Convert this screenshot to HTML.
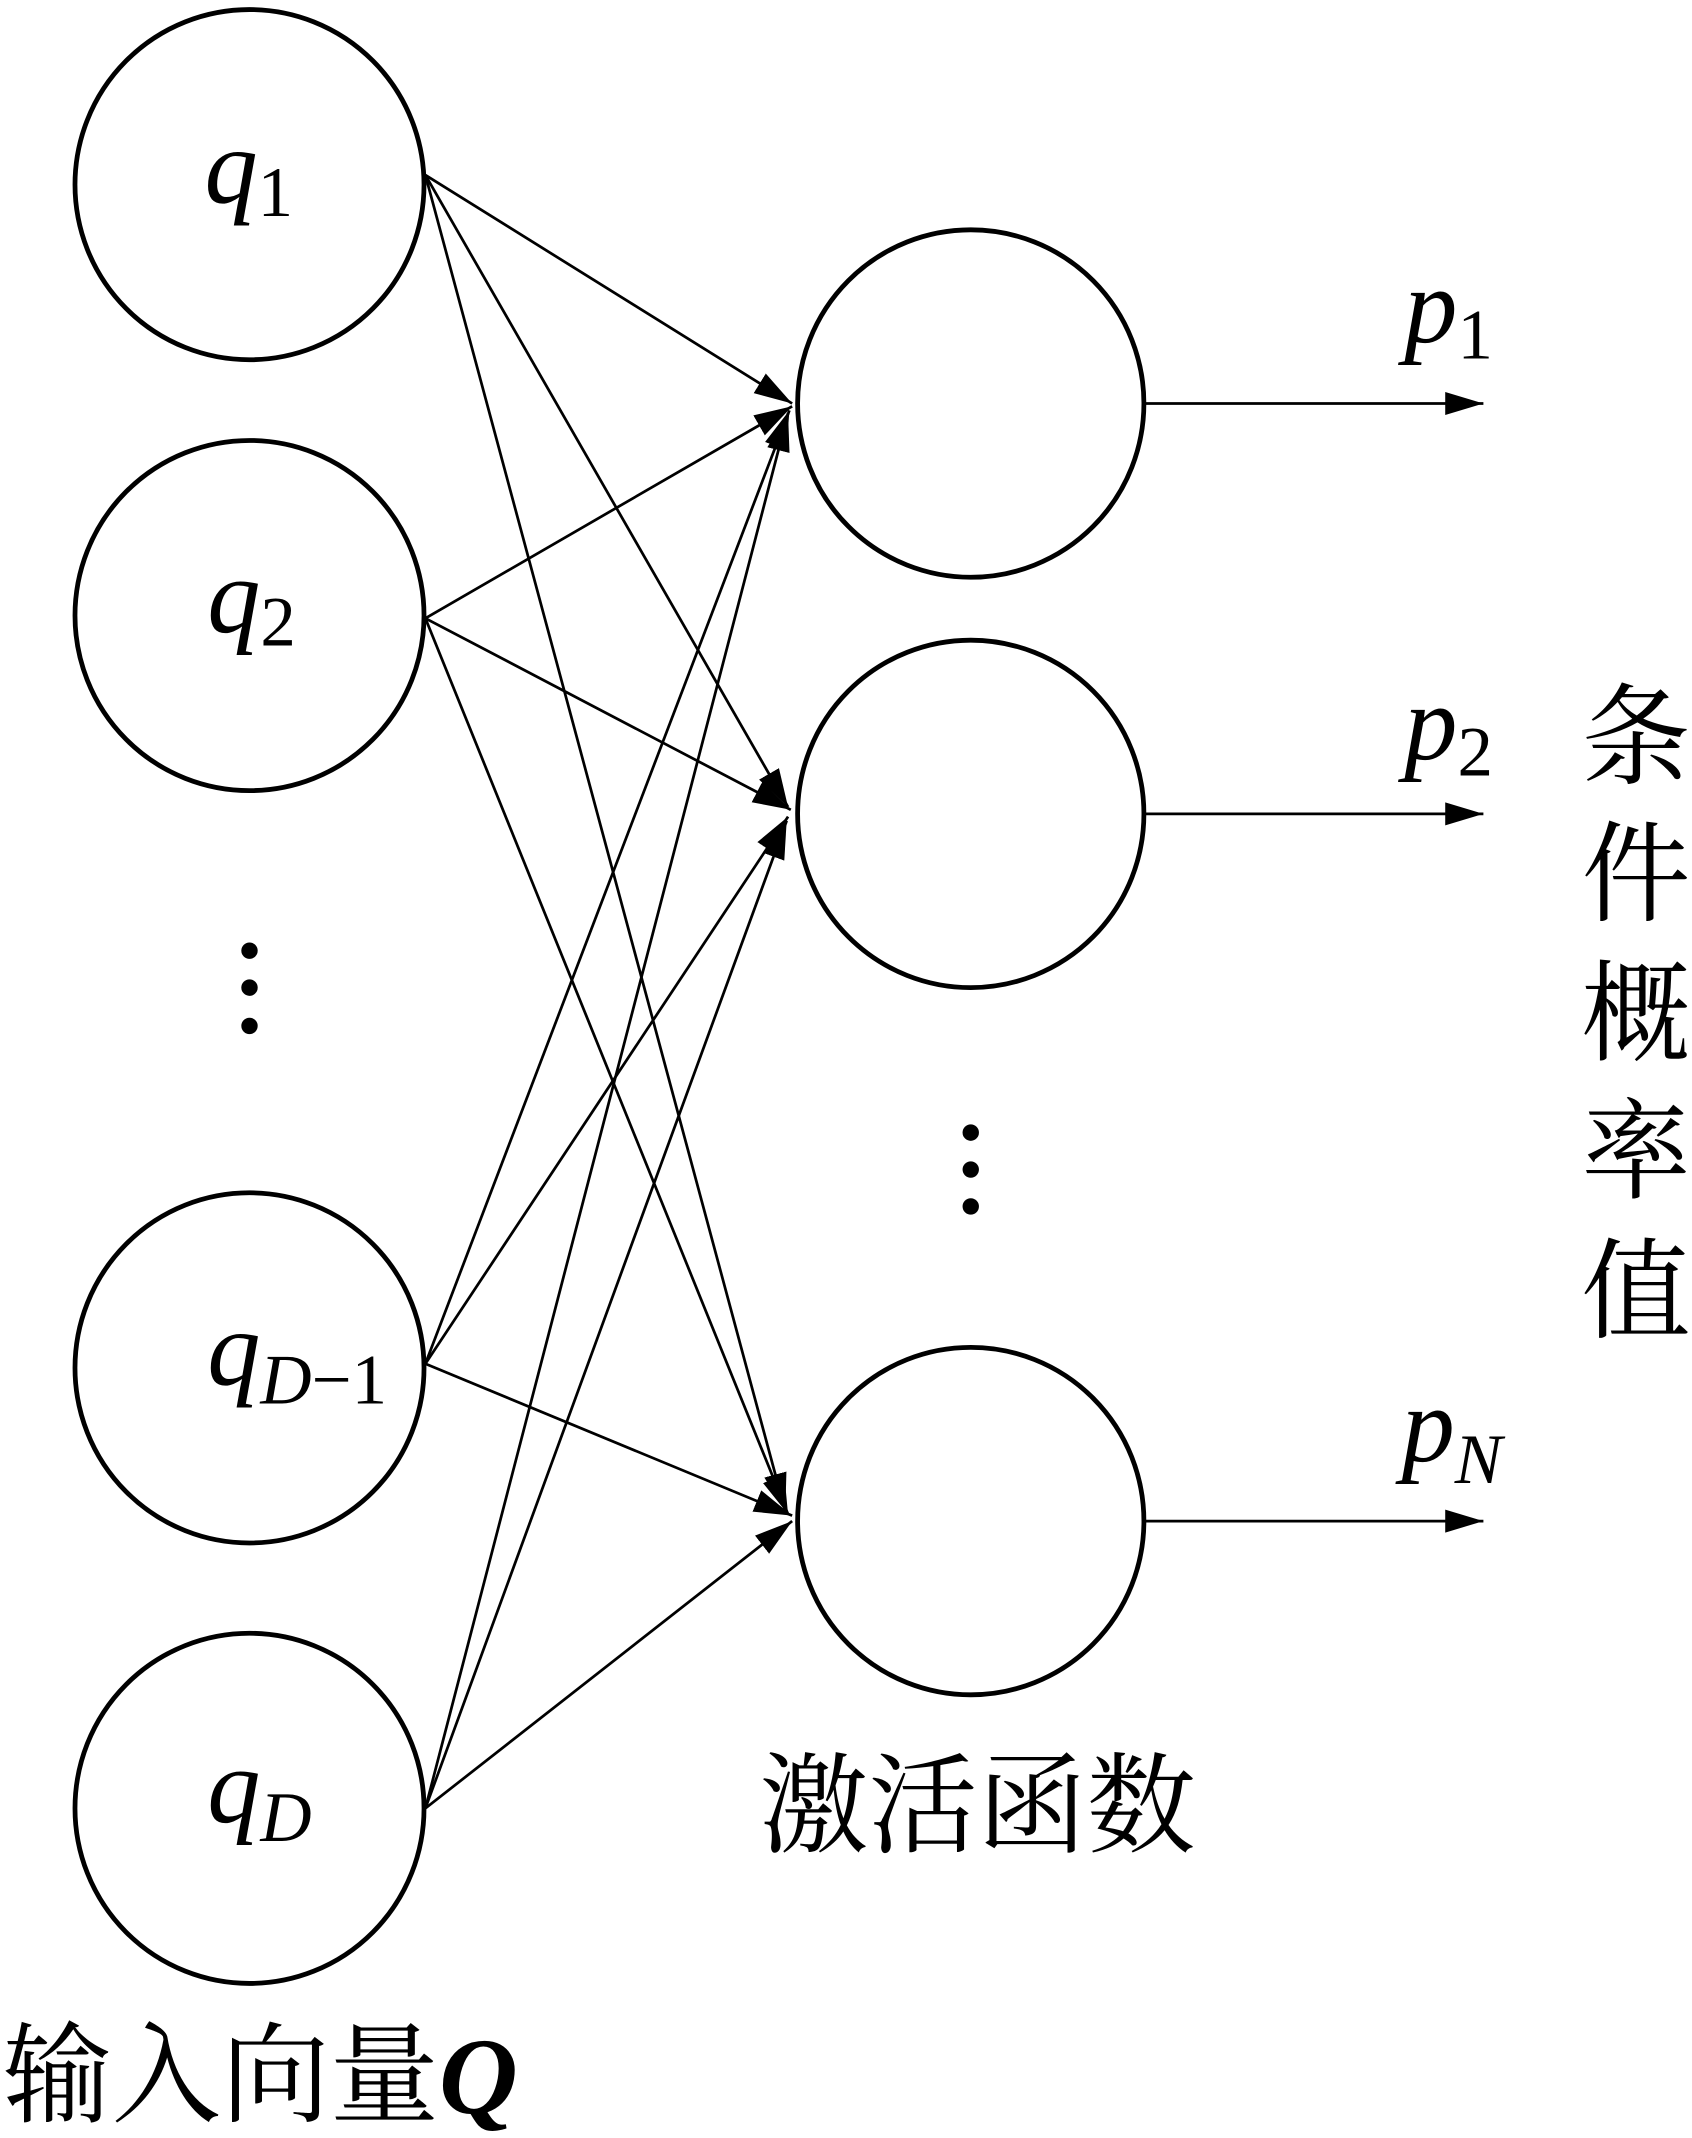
<!DOCTYPE html>
<html><head><meta charset="utf-8"><style>
html,body{margin:0;padding:0;background:#fff;}
svg{display:block;}
.it{font-family:"Liberation Serif",serif;font-style:italic;}
.rm{font-family:"Liberation Serif",serif;font-style:normal;}
.cj{font-family:"Liberation Serif","Noto Serif CJK SC",serif;}
</style></head><body>
<svg width="1692" height="2138" viewBox="0 0 1241 1563" preserveAspectRatio="none" xmlns="http://www.w3.org/2000/svg">
<defs>
<marker id="b" viewBox="0 0 10 10" refX="10" refY="5" markerWidth="28" markerHeight="28" markerUnits="userSpaceOnUse" orient="auto">
<path d="M0,2 L10,5 L0,8 Z" fill="#000"/>
</marker>
</defs>
<g fill="none" stroke="#000" stroke-width="3.5">
<circle cx="183" cy="135" r="128"/>
<circle cx="183" cy="450" r="128"/>
<circle cx="183" cy="1000" r="128"/>
<circle cx="183" cy="1322" r="128"/>
<circle cx="712" cy="295" r="127"/>
<circle cx="712" cy="595" r="127"/>
<circle cx="712" cy="1112" r="127"/>
</g>
<g fill="#000">
<circle cx="183" cy="695" r="6"/><circle cx="183" cy="722" r="6"/><circle cx="183" cy="750" r="6"/>
<circle cx="712" cy="828" r="6"/><circle cx="712" cy="855" r="6"/><circle cx="712" cy="882" r="6"/>
</g>
<g stroke="#000" stroke-width="2" marker-end="url(#b)">
<line x1="312" y1="128" x2="581" y2="295"/>
<line x1="312" y1="128" x2="578" y2="590"/>
<line x1="312" y1="128" x2="576" y2="1105"/>
<line x1="312" y1="452" x2="581" y2="297"/>
<line x1="312" y1="452" x2="580" y2="592"/>
<line x1="312" y1="452" x2="578" y2="1107"/>
<line x1="312" y1="997" x2="579" y2="300"/>
<line x1="312" y1="997" x2="578" y2="597"/>
<line x1="312" y1="997" x2="581" y2="1108"/>
<line x1="312" y1="1322" x2="578" y2="302"/>
<line x1="312" y1="1322" x2="577" y2="600"/>
<line x1="312" y1="1322" x2="581" y2="1112"/>
<line x1="840" y1="295" x2="1088" y2="295"/>
<line x1="840" y1="595" x2="1088" y2="595"/>
<line x1="840" y1="1112" x2="1088" y2="1112"/>
</g>
<g font-size="78">
<text x="150" y="148" class="it">q<tspan class="rm" font-size="52" dy="10">1</tspan></text>
<text x="152" y="462" class="it">q<tspan class="rm" font-size="52" dy="10">2</tspan></text>
<text x="152" y="1012" class="it">q<tspan font-size="52" dy="14">D</tspan><tspan class="rm" font-size="52">−1</tspan></text>
<text x="152" y="1332" class="it">q<tspan font-size="52" dy="14">D</tspan></text>
<text x="1030" y="250" class="it">p<tspan class="rm" font-size="52" dy="12">1</tspan></text>
<text x="1030" y="555" class="it">p<tspan class="rm" font-size="52" dy="12">2</tspan></text>
<text x="1028" y="1068" class="it">p<tspan font-size="52" dy="16">N</tspan></text>
</g>
<g font-size="80" class="cj">
<text x="1160" y="567">条</text>
<text x="1160" y="667">件</text>
<text x="1160" y="769">概</text>
<text x="1160" y="870">率</text>
<text x="1160" y="972">值</text>
<text x="557" y="1348">激活函数</text>
<text x="2" y="1545">输入向量<tspan class="it" font-weight="bold">Q</tspan></text>
</g>
</svg>
</body></html>
